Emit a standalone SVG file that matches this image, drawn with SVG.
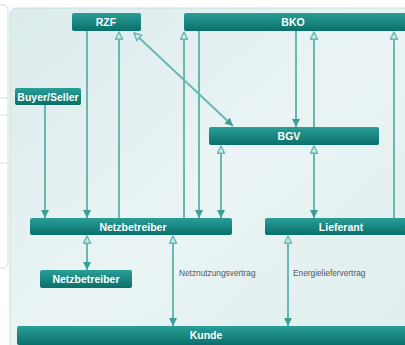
<svg xmlns="http://www.w3.org/2000/svg" width="405" height="345" viewBox="0 0 405 345">
<defs>
<linearGradient id="bg" x1="0" y1="0" x2="1" y2="1">
<stop offset="0" stop-color="#dcebec"/><stop offset="0.5" stop-color="#eaf4f4"/><stop offset="1" stop-color="#dfeeee"/>
</linearGradient>
<linearGradient id="nf" x1="0" y1="0" x2="0" y2="1">
<stop offset="0" stop-color="#2a9e98"/><stop offset="1" stop-color="#0b6f6a"/>
</linearGradient>
<marker id="fa" viewBox="0 0 10 10" refX="10" refY="5" markerWidth="8" markerHeight="8" markerUnits="userSpaceOnUse" orient="auto-start-reverse"><path d="M0,0 L10,5 L0,10 z" fill="#3e9d99"/></marker>
<marker id="ha" viewBox="0 0 10 10" refX="9" refY="5" markerWidth="9" markerHeight="9" markerUnits="userSpaceOnUse" orient="auto-start-reverse"><path d="M1,1 L9,5 L1,9 z" fill="#cde8e7" stroke="#6ab8b5" stroke-width="1.6" stroke-linejoin="round"/></marker>
</defs>
<style>
.node rect{fill:url(#nf);}
.node text{fill:#ffffff;font-family:"Liberation Sans",Arial,sans-serif;font-weight:bold;font-size:10.5px;text-anchor:middle;}
.lbl{fill:#555;font-family:"Liberation Sans",Arial,sans-serif;font-size:8.3px;}
#connectors line{stroke:#6ab8b5;stroke-width:2;fill:none;}
.f{marker-end:url(#fa);}
.h{marker-end:url(#ha);}
.d{marker-start:url(#ha);marker-end:url(#fa);}
</style>
<rect x="0" y="0" width="405" height="345" fill="#ffffff"/>
<rect x="-12" y="5" width="20" height="263" rx="5" fill="#ffffff" stroke="#d2dcdd" stroke-width="1"/>
<path d="M-2,98 H8 M-2,115 H8 M-2,163 H8" stroke="#d2dcdd" stroke-width="1"/>
<rect x="10" y="8" width="405" height="350" rx="6" fill="url(#bg)" stroke="#c6dedf" stroke-width="1"/>
<g id="connectors">
<line class="f" x1="45" y1="105" x2="45" y2="218"/>
<line class="f" x1="87" y1="31" x2="87" y2="218"/>
<line class="h" x1="119" y1="218" x2="119" y2="32"/>
<line class="h" x1="184" y1="218" x2="184" y2="32"/>
<line class="f" x1="199" y1="31" x2="199" y2="218"/>
<line class="d" x1="134" y1="33" x2="233" y2="126"/>
<line class="f" x1="296" y1="31" x2="296" y2="127"/>
<line class="h" x1="314" y1="127" x2="314" y2="32"/>
<line class="h" x1="394" y1="218" x2="394" y2="32"/>
<line class="d" x1="221" y1="146" x2="221" y2="218"/>
<line class="d" x1="314" y1="146" x2="314" y2="218"/>
<line class="d" x1="87" y1="236" x2="87" y2="270"/>
<line class="d" x1="173" y1="236" x2="173" y2="326"/>
<line class="d" x1="288" y1="236" x2="288" y2="326"/>
</g>
<g id="n-rzf" class="node"><rect x="72" y="13" width="69" height="18" rx="2"/><text x="106" y="26">RZF</text></g>
<g id="n-bko" class="node"><rect x="184" y="13" width="226" height="18" rx="2"/><text x="293" y="26">BKO</text></g>
<g id="n-buyer" class="node"><rect x="15" y="88" width="66" height="17" rx="2"/><text x="48" y="101">Buyer/Seller</text></g>
<g id="n-bgv" class="node"><rect x="209" y="127" width="170" height="18" rx="2"/><text x="289" y="140">BGV</text></g>
<g id="n-netz" class="node"><rect x="30" y="218" width="202" height="17" rx="2"/><text x="133" y="231">Netzbetreiber</text></g>
<g id="n-lief" class="node"><rect x="265" y="218" width="145" height="17" rx="2"/><text x="341" y="231">Lieferant</text></g>
<g id="n-netz2" class="node"><rect x="40" y="270" width="92" height="18" rx="2"/><text x="86" y="283">Netzbetreiber</text></g>
<g id="n-kunde" class="node"><rect x="17" y="326" width="393" height="19" rx="2"/><text x="206" y="339">Kunde</text></g>
<text class="lbl" x="179" y="276">Netznutzungsvertrag</text>
<text class="lbl" x="293" y="276">Energieliefervertrag</text>
</svg>
